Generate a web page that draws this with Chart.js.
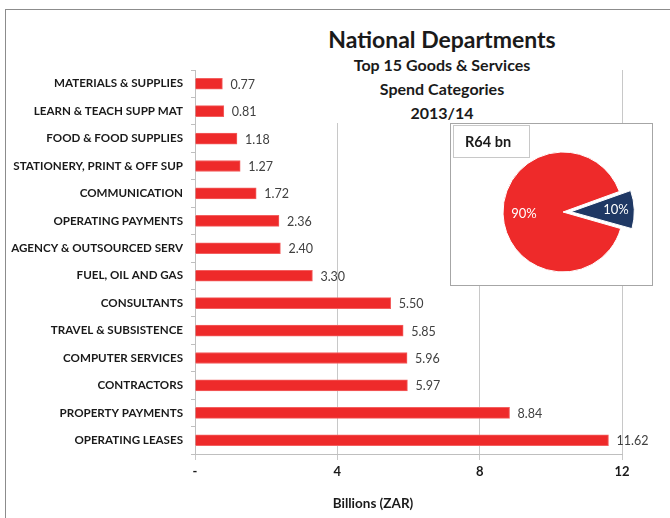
<!DOCTYPE html>
<html>
<head>
<meta charset="utf-8">
<script src="https://cdn.jsdelivr.net/npm/chart.js@4/dist/chart.umd.min.js"></script>
<style>
  body { margin: 0; background: #fff; font-family: Lato, sans-serif; }
  #wrap { position: relative; width: 670px; height: 518px; overflow: hidden; }
  #frame { position: absolute; left: 5px; top: 9px; width: 700px; height: 600px;
           border-top: 1px solid #8c8c8c; border-left: 1px solid #8c8c8c; }
  #bars { position: absolute; left: 0; top: 0; }
  #title { position: absolute; left: 300px; top: 22px; width: 284px; height: 101px;
           background: #fff; text-align: center; color: #1a1a1a; font-weight: bold; }
  #title .big { font-size: 23px; line-height: 28px; margin-top: 3px; }
  #title .sub { font-size: 16px; line-height: 24px; }
  #xtitle { position: absolute; left: 293px; top: 493px; width: 160px; text-align: center;
            font-size: 13.5px; font-weight: bold; line-height: 20px; color: #1a1a1a; }
  #piebox { position: absolute; left: 450px; top: 123px; width: 203px; height: 163px;
            box-sizing: border-box; border: 1px solid #a6a6a6; background: #fff; }
  #total { position: absolute; left: 453px; top: 125px; width: 77px; height: 33px;
           box-sizing: border-box; border: 1px solid #c8c8c8; padding-left: 11px;
           font-size: 14.5px; font-weight: bold; line-height: 31px; color: #1a1a1a; }
  #pie { position: absolute; left: 480px; top: 129px; }
</style>
</head>
<body>
<div id="wrap">
  <div id="frame"></div>
  <canvas id="bars" width="670" height="518"></canvas>
  <div id="title">
    <div class="big">National Departments</div>
    <div class="sub">Top 15 Goods &amp; Services</div>
    <div class="sub">Spend Categories</div>
    <div class="sub">2013/14</div>
  </div>
  <div id="xtitle">Billions (ZAR)</div>
  <div id="piebox"></div>
  <div id="total">R64 bn</div>
  <canvas id="pie" width="166" height="166"></canvas>
</div>
<script>
const categories = ['MATERIALS & SUPPLIES', 'LEARN & TEACH SUPP MAT', 'FOOD & FOOD SUPPLIES',
  'STATIONERY, PRINT & OFF SUP', 'COMMUNICATION', 'OPERATING PAYMENTS', 'AGENCY & OUTSOURCED SERV',
  'FUEL, OIL AND GAS', 'CONSULTANTS', 'TRAVEL & SUBSISTENCE', 'COMPUTER SERVICES', 'CONTRACTORS',
  'PROPERTY PAYMENTS', 'OPERATING LEASES'];
const spend = [0.77, 0.81, 1.18, 1.27, 1.72, 2.36, 2.40, 3.30, 5.50, 5.85, 5.96, 5.97, 8.84, 11.62];
const xTicks = [0, 4, 8, 12];

const shareLabels = ['Top 15', 'Other'];
const share = [90, 10];

const bold = size => ({ family: 'Lato', weight: 'bold', size: size });

// numbers to the right of each bar
const valueLabels = {
  id: 'valueLabels',
  afterDatasetsDraw(chart) {
    const ctx = chart.ctx;
    ctx.save();
    ctx.font = '12.5px Lato';
    ctx.fillStyle = '#404040';
    ctx.textBaseline = 'middle';
    chart.getDatasetMeta(0).data.forEach((bar, i) => {
      ctx.fillText(spend[i].toFixed(2), bar.x + 8, bar.y + 1);
    });
    ctx.restore();
  }
};

new Chart(document.getElementById('bars'), {
  type: 'bar',
  data: {
    labels: categories,
    datasets: [{
      data: spend,
      backgroundColor: '#ee2a2a',
      borderColor: '#f36060',
      borderWidth: 1,
      barThickness: 11
    }]
  },
  options: {
    indexAxis: 'y',
    responsive: false,
    animation: false,
    layout: { padding: { top: 70, right: 48, left: 0, bottom: 6 } },
    plugins: { legend: { display: false }, tooltip: { enabled: false } },
    scales: {
      x: {
        min: xTicks[0],
        max: xTicks[xTicks.length - 1],
        afterBuildTicks: s => { s.ticks = xTicks.map(v => ({ value: v })); },
        ticks: {
          callback: v => v === 0 ? '-' : v,
          font: bold(13), color: '#1a1a1a', padding: 4
        },
        grid: { color: '#c8c8c8', tickLength: 6 },
        border: { color: '#bfbfbf' },
        afterFit: s => { s.height = 58; }
      },
      y: {
        ticks: { font: bold(11.6), color: '#1a1a1a', padding: 8 },
        grid: { drawOnChartArea: false, tickLength: 4, color: '#bfbfbf' },
        border: { color: '#bfbfbf' },
        afterFit: s => { s.width = 195; }
      }
    }
  },
  plugins: [valueLabels]
});

// percentage labels inside the pie slices
const pieLabels = {
  id: 'pieLabels',
  afterDatasetsDraw(chart) {
    const ctx = chart.ctx;
    const ds = chart.data.datasets[0];
    ctx.save();
    ctx.font = '13px Lato';
    ctx.fillStyle = '#fff';
    ctx.textAlign = 'center';
    ctx.textBaseline = 'middle';
    chart.getDatasetMeta(0).data.forEach((arc, i) => {
      const mid = (arc.startAngle + arc.endAngle) / 2;
      const r = ds.offset[i] / 4 + arc.outerRadius * (i === 0 ? 0.65 : 0.75);
      ctx.fillText(share[i] + '%', arc.x + Math.cos(mid) * r, arc.y + Math.sin(mid) * r);
    });
    ctx.restore();
  }
};

new Chart(document.getElementById('pie'), {
  type: 'pie',
  data: {
    labels: shareLabels,
    datasets: [{
      data: share,
      backgroundColor: ['#ee2a2a', '#1f3864'],
      borderColor: '#ffffff',
      borderWidth: 1,
      offset: [0, 32]
    }]
  },
  options: {
    responsive: false,
    animation: false,
    rotation: 106,
    radius: 60,
    plugins: { legend: { display: false }, tooltip: { enabled: false } }
  },
  plugins: [pieLabels]
});
</script>
</body>
</html>
